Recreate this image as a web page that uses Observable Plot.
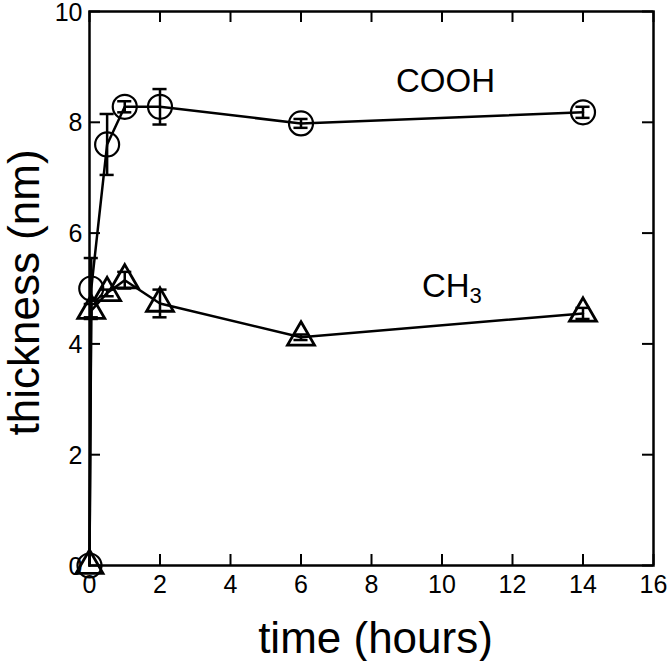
<!DOCTYPE html>
<html><head><meta charset="utf-8">
<script src="https://cdn.jsdelivr.net/npm/d3@7"></script>
<script src="https://cdn.jsdelivr.net/npm/@observablehq/plot@0.6"></script>
<style>body{margin:0;background:#fff} svg{font-family:"Liberation Sans", Arial, Helvetica, sans-serif}</style>
</head><body><div id="chart"></div>
<script>
// Data
const time = [0, 0.05, 0.5, 1, 2, 6, 14];
const cooh = [0, 5.0, 7.6, 8.28, 8.28, 7.98, 8.18];
const coohErr = [0, 0.55, 0.55, 0.1, 0.32, 0.08, 0.1];
const ch3 = [0, 4.6, 4.92, 5.15, 4.73, 4.12, 4.55];
const ch3Err = [0, 0.12, 0.06, 0.15, 0.25, 0.05, 0.1];
const xTicks = [0, 2, 4, 6, 8, 10, 12, 14, 16];
const yTicks = [0, 2, 4, 6, 8, 10];
const seriesLabels = [
  {x: 10.1, y: 8.74, text: "COOH"},
  {x: 10.28, y: 5.04, text: "CH3"}
];
const xTitle = "time (hours)";
const yTitle = "thickness (nm)";

const coohRows = time.map((t, i) => ({t, v: cooh[i], e: coohErr[i]}));
const ch3Rows = time.map((t, i) => ({t, v: ch3[i], e: ch3Err[i]}));
const capHalf = 0.2;

const W = 669, H = 661, ML = 89, MR = 16, MT = 11, MB = 96;
const frameW = W - ML - MR, frameH = H - MT - MB, tickLen = 11;

function errorBars(rows) {
  const r = rows.filter(d => d.e > 0);
  return [
    Plot.ruleX(r, {x: "t", y1: d => d.v - d.e, y2: d => d.v + d.e, strokeWidth: 2.5}),
    Plot.ruleY(r, {y: d => d.v + d.e, x1: d => d.t - capHalf, x2: d => d.t + capHalf, strokeWidth: 2.5}),
    Plot.ruleY(r, {y: d => d.v - d.e, x1: d => d.t - capHalf, x2: d => d.t + capHalf, strokeWidth: 2.5})
  ];
}

const chart = Plot.plot({
  width: W,
  height: H,
  marginLeft: ML,
  marginRight: MR,
  marginTop: MT,
  marginBottom: MB,
  style: {fontFamily: '"Liberation Sans", Arial, Helvetica, sans-serif', color: "black", background: "white"},
  x: {domain: [0, 16]},
  y: {domain: [0, 10]},
  marks: [
    // inward ticks on all four sides
    Plot.tickX(xTicks, {x: d => d, insetTop: frameH - tickLen, strokeWidth: 2}),
    Plot.tickX(xTicks, {x: d => d, insetBottom: frameH - tickLen, strokeWidth: 2}),
    Plot.tickY(yTicks, {y: d => d, insetRight: frameW - tickLen, strokeWidth: 2}),
    Plot.tickY(yTicks, {y: d => d, insetLeft: frameW - tickLen, strokeWidth: 2}),
    // tick labels
    Plot.axisX(xTicks, {anchor: "bottom", tickSize: 0, tickPadding: 10, fontSize: 25, label: null, tickFormat: d3.format("d")}),
    Plot.axisY(yTicks, {anchor: "left", tickSize: 0, tickPadding: 7, fontSize: 25, label: null, tickFormat: d3.format("d"), dy: 1}),
    Plot.frame({stroke: "black", strokeWidth: 2.5}),
    // series
    Plot.line(coohRows, {x: "t", y: "v", stroke: "black", strokeWidth: 2.5}),
    Plot.line(ch3Rows, {x: "t", y: "v", stroke: "black", strokeWidth: 2.5}),
    Plot.dot(coohRows, {x: "t", y: "v", r: 12, symbol: "circle", fill: "none", stroke: "black", strokeWidth: 2.2}),
    Plot.dot(ch3Rows, {x: "t", y: "v", r: 10, symbol: "triangle", fill: "none", stroke: "black", strokeWidth: 2.8}),
    ...errorBars(coohRows),
    ...errorBars(ch3Rows),
    // labels
    Plot.text(seriesLabels, {x: "x", y: "y", text: "text", fontSize: 33, fill: "black"}),
    Plot.text([xTitle], {frameAnchor: "bottom", lineAnchor: "middle", textAnchor: "middle", dy: 73, dx: 4, fontSize: 44, fill: "black"}),
    Plot.text([yTitle], {frameAnchor: "left", lineAnchor: "middle", textAnchor: "middle", dx: -65, dy: 4, rotate: -90, fontSize: 44, fill: "black"})
  ]
});

// subscript for CH3
d3.select(chart).selectAll("text").filter(function() { return this.textContent === "CH3"; }).each(function() {
  const t = d3.select(this);
  t.text("CH");
  t.append("tspan").attr("dy", "0.27em").attr("font-size", "22").text("3");
});

document.getElementById("chart").appendChild(chart);
</script>
</body></html>
